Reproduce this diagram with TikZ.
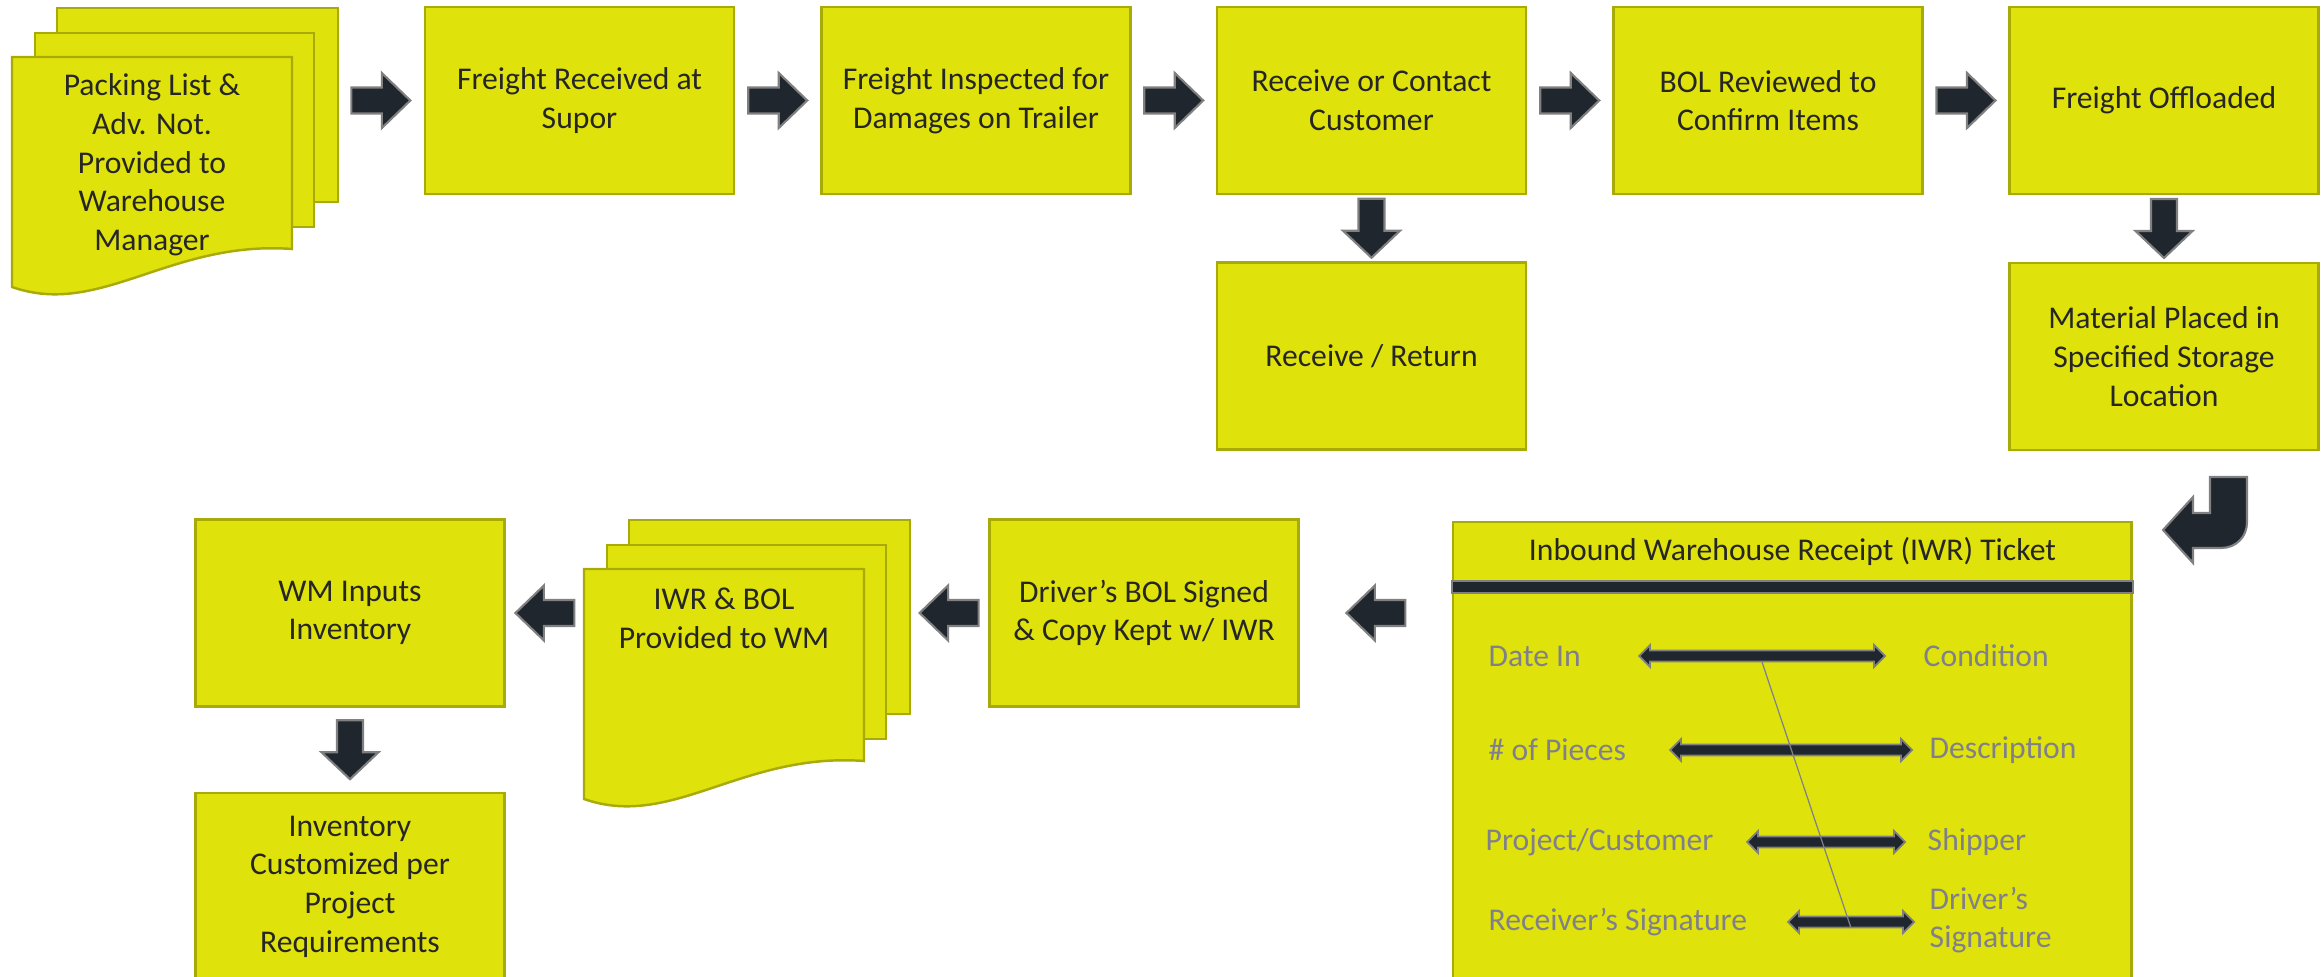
\documentclass[tikz,border=0pt]{standalone}
\usepackage{fontspec}
\setmainfont{Carlito}
\usetikzlibrary{calc}
\definecolor{boxfill}{RGB}{224,226,12}
\definecolor{boxline}{RGB}{168,170,8}
\definecolor{arrowfill}{RGB}{31,38,45}
\definecolor{arrowline}{RGB}{128,128,128}
\definecolor{inkcolor}{RGB}{38,38,38}
\definecolor{ticketink}{RGB}{128,128,140}

\begin{document}
\begin{tikzpicture}[x=0.01cm, y=-0.01cm, font=\fontsize{9}{11}\selectfont,
  stepbox/.style={rectangle, draw=boxline, fill=boxfill, line width=0.7pt,
    minimum width=\boxw, minimum height=\boxh, align=center, text=inkcolor, inner sep=0pt},
  docsheet/.style={draw=boxline, fill=boxfill, line width=0.7pt},
  doctext/.style={text=inkcolor, align=center, inner sep=0pt},
  blockarrow/.style={fill=arrowfill, draw=arrowline, line width=0.6pt},
  fieldtext/.style={text=ticketink, anchor=west, inner sep=0pt},
  tieline/.style={draw=ticketink, line width=0.35pt},
  blockright/.pic={\draw[blockarrow] (-29.5,-13) -- (1,-13) -- (1,-27.5) -- (29.5,0)
    -- (1,27.5) -- (1,13) -- (-29.5,13) -- cycle;},
  blockleft/.pic={\draw[blockarrow] (29.5,-13) -- (-1,-13) -- (-1,-27.5) -- (-29.5,0)
    -- (-1,27.5) -- (-1,13) -- (29.5,13) -- cycle;},
  blockdown/.pic={\draw[blockarrow] (-13,-29.5) -- (13,-29.5) -- (13,2.5) -- (28.5,2.5)
    -- (0,29.5) -- (-28.5,2.5) -- (-13,2.5) -- cycle;},
  docstack/.pic={
    \draw[docsheet] (45,-49) rectangle (326,145);
    \draw[docsheet] (23,-24) rectangle (302,170);
    \draw[docsheet] (0,0) -- (280,0) -- (280,192)
      .. controls (158,183) and (88,261) .. (0,230) -- cycle;},
]

% ------------------------------------------------------------------
% === SIZES (1 unit = 1 px of the page) ============================
\def\boxw{3.09cm}   % width of a step box
\def\boxh{1.87cm}   % height of a step box
% ==================================================================

\useasboundingbox (0,0) rectangle (2321,977);

% --- top row -------------------------------------------------------
\pic at (12,57) {docstack};
\node[doctext] (packing) at (152,165) {Packing List \&\\Adv. Not.\\Provided to\\Warehouse\\Manager};
\coordinate (packing-r) at (338,100.5);

\node[stepbox] (freight) at (579.5,100.5) {Freight Received at\\Supor};
\node[stepbox] (inspect) at (976,100.5)   {Freight Inspected for\\Damages on Trailer};
\node[stepbox] (contact) at (1371.5,100.5) {Receive or Contact\\Customer};
\node[stepbox] (bol)     at (1768,100.5)  {BOL Reviewed to\\Confirm Items};
\node[stepbox] (offload) at (2164,100.5)  {Freight Offloaded};

\node[stepbox] (return)  at (1371.5,356) {Receive / Return};
\node[stepbox] (storage) at (2164,356.5) {Material Placed in\\Specified Storage\\Location};

\pic at ($(packing-r)!0.5!(freight.west)$) {blockright};
\pic at ($(freight.east)!0.5!(inspect.west)$) {blockright};
\pic at ($(inspect.east)!0.5!(contact.west)$) {blockright};
\pic at ($(contact.east)!0.5!(bol.west)$) {blockright};
\pic at ($(bol.east)!0.5!(offload.west)$) {blockright};
\pic at ($(contact.south)!0.5!(return.north)$) {blockdown};
\pic at ($(offload.south)!0.5!(storage.north)$) {blockdown};

% --- turn from storage down to the ticket --------------------------
\draw[blockarrow] (2163,530) -- (2193,497) -- (2193,513) -- (2210,513) -- (2210,477)
  -- (2247,477) -- (2247,522) .. controls (2247,537) and (2236,548) .. (2221,548)
  -- (2193,548) -- (2193,563) -- cycle;

% === IWR ticket ====================================================
\node[rectangle, draw=boxline, fill=boxfill, line width=0.7pt, anchor=north west,
  minimum width=6.78cm, minimum height=4.8cm, inner sep=0pt] (ticket) at (1452,521) {};
\node[text=inkcolor, inner sep=0pt] (ticket-title) at ($(ticket.north)+(0,30)$)
  {Inbound Warehouse Receipt (IWR) Ticket};
\draw[blockarrow] (ticket.west |- 0,581) rectangle (ticket.east |- 0,593);

\node[fieldtext] (datein)      at (1488,656) {Date In};
\node[fieldtext] (condition)   at (1923,656) {Condition};
\node[fieldtext] (pieces)      at (1488,750) {\# of Pieces};
\node[fieldtext] (description) at (1929,750) {Description};
\node[fieldtext] (project)     at (1485,842) {Project/Customer};
\node[fieldtext] (shipper)     at (1927,842) {Shipper};
\node[fieldtext] (receiver)    at (1488,922) {Receiver’s Signature};
\node[fieldtext, align=left] (driversig) at (1929,920) {Driver’s\\Signature};

% ends of the field arrows
\coordinate (f1a) at (1639,656); \coordinate (f1b) at (1885,656);
\coordinate (f2a) at (1670,750); \coordinate (f2b) at (1912,750);
\coordinate (f3a) at (1747,842); \coordinate (f3b) at (1905,842);
\coordinate (f4a) at (1788,922); \coordinate (f4b) at (1914,922);

\foreach \a/\b in {f1a/f1b, f2a/f2b, f3a/f3b, f4a/f4b} {
  \draw[blockarrow, line width=0.5pt] (\a) -- ++(11,-11) -- ++(0,5.5)
    -- ($(\b)+(-11,-5.5)$) -- ++(0,-5.5) -- (\b) -- ++(-11,11) -- ++(0,-5.5)
    -- ($(\a)+(11,5.5)$) -- ++(0,5.5) -- cycle;
}
\draw[tieline] ($(f1a)!0.5!(f1b)+(0,6)$) -- ($(f4a)!0.5!(f4b)+(0,6)$);

% --- bottom row ----------------------------------------------------
\node[stepbox] (driver) at (1144,613) {Driver’s BOL Signed\\\& Copy Kept w/ IWR};

\pic at (584,569) {docstack};
\node[doctext] (iwrdoc) at (724,618.5) {IWR \& BOL\\Provided to WM};
\coordinate (iwrdoc-l) at (584,613);
\coordinate (iwrdoc-r) at (910,613);

\node[stepbox] (wm)     at (350,613)   {WM Inputs\\Inventory};
\node[stepbox] (custom) at (350,886.5) {Inventory\\Customized per\\Project\\Requirements};

\pic at ($(ticket.west |- driver.east)!0.5!(driver.east)$) {blockleft};
\pic at ($(driver.west)!0.5!(iwrdoc-r)$) {blockleft};
\pic at ($(iwrdoc-l)!0.5!(wm.east)$) {blockleft};
\pic at ($(wm.south)!0.5!(custom.north)$) {blockdown};

\end{tikzpicture}
\end{document}
